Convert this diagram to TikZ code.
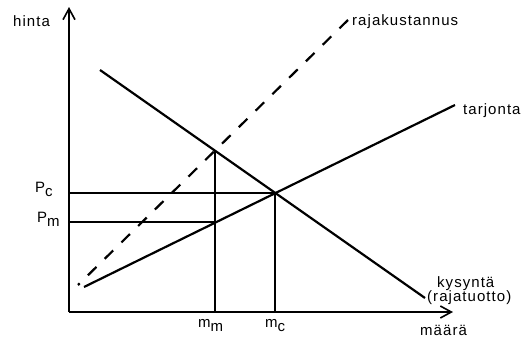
\documentclass[tikz,border=0pt]{standalone}
\usepackage{fontspec}
\setmainfont{Liberation Sans}[LetterSpace=7]
\usetikzlibrary{arrows.meta}
\newcommand{\sbs}[1]{\raisebox{-4.5pt}{#1}}
\begin{document}
\begin{tikzpicture}[x=1pt,y=-1pt,
  axis/.style={line width=1.6pt,-{Straight Barb[length=11pt,width=12pt,line width=1.6pt]}},
  curve/.style={line width=2.2pt},
  guide/.style={line width=1.1pt},
  lbl/.style={font=\fontsize{15}{17}\selectfont,inner sep=0pt}]
\useasboundingbox (0,0) rectangle (525,340);
% coordinates
\coordinate (O) at (69,312);
\coordinate (ytop) at (69,7);
\coordinate (xend) at (453,312);
\coordinate (d1) at (100,70);
\coordinate (d2) at (425,298);
\coordinate (s1) at (84,287);
\coordinate (s2) at (455,105);
\coordinate (r1) at (78,285);
\coordinate (r2) at (348,20);
\coordinate (E) at (275,193);
\coordinate (M) at (215,222);
\coordinate (Mtop) at (215,151);
\coordinate (pc) at (69,193);
\coordinate (pm) at (69,222);
\coordinate (mc) at (275,312);
\coordinate (mm) at (215,312);
% axes
\draw[axis] (O) -- (ytop);
\draw[axis] (O) -- (xend);
% guides
\draw[guide] (pc) -- (E);
\draw[guide] (pm) -- (M);
\draw[guide] (mm) -- (Mtop);
\draw[guide] (mc) -- (E);
% curves
\draw[curve] (d1) -- (d2);
\draw[curve] (s1) -- (s2);
\draw[curve,dash pattern=on 12pt off 11.5pt] (r2) -- (r1);
% labels
\node[lbl,anchor=base west] (hinta) at (13,27) {hinta};
\node[lbl,anchor=base west] (raja) at (352,25) {rajakustannus};
\node[lbl,anchor=base west] (tarj) at (463,114) {tarjonta};
\node[lbl,anchor=base west] (Pc) at (35,192) {P\sbs{c}};
\node[lbl,anchor=base west] (Pm) at (37,222) {P\sbs{m}};
\node[lbl,anchor=base west] (mmL) at (198,327) {m\sbs{m}};
\node[lbl,anchor=base west] (mcL) at (265,327) {m\sbs{c}};
\node[lbl,anchor=base west] (kys) at (437,287) {kysyntä};
\node[lbl,anchor=base west] (rt) at (427,301) {(rajatuotto)};
\node[lbl,anchor=base west] (maara) at (420,335) {määrä};
\end{tikzpicture}
\end{document}
